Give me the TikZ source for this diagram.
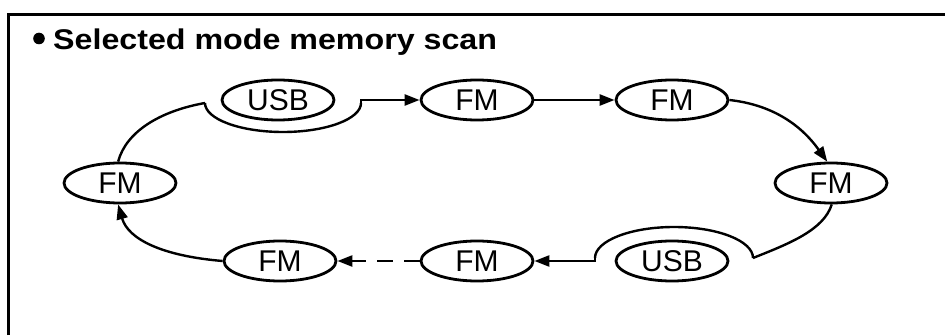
\documentclass[tikz,border=0pt]{standalone}
\usepackage{fontspec}
\setmainfont{Liberation Sans}
\usetikzlibrary{shapes.geometric,arrows.meta,calc}
\begin{document}
\begin{tikzpicture}[x=1pt,y=1pt,
  mode/.style={ellipse,draw,line width=2.8pt,minimum width=112pt,minimum height=40pt,inner sep=0pt,font=\fontsize{30}{30}\selectfont},
  conn/.style={line width=2.4pt},
  tip/.style={-{Triangle[length=15pt,width=11pt]}},
  frame/.style={line width=3pt}]
\useasboundingbox (0,0) rectangle (945,335);
% frame
\coordinate (fa) at (8,0);
\coordinate (fb) at (8,320);
\coordinate (fc) at (945,320);
\draw[frame] (fa) -- (fb) -- (fc);
% title
\fill (39,296.5) circle[radius=5.8pt];
\node[anchor=base west,inner sep=0pt,font=\fontsize{28.5}{28.5}\selectfont\bfseries] (title) at (53,285) {\scalebox{1.13}[1]{Selected mode memory scan}};
% nodes
\node[mode] (usbT) at (278,235) {USB};
\node[mode] (fm1) at (477,235) {FM};
\node[mode] (fm2) at (672,235) {FM};
\node[mode] (fmR) at (831,152) {FM};
\node[mode] (usbB) at (672,74) {USB};
\node[mode] (fmB1) at (477,74) {FM};
\node[mode] (fmB2) at (280,74) {FM};
\node[mode] (fmL) at (120,152) {FM};
% cup under top USB
\coordinate (cupL) at ($(usbT)+(-73,-3)$);
\coordinate (cupR) at ($(usbT)+(83,-3)$);
\draw[conn] (cupL) arc[start angle=180,end angle=360,x radius=78,y radius=29];
\draw[conn,tip] (cupR) -- ($(cupR)+(0,3)$) -- (fm1.west);
\draw[conn] (cupL) .. controls +(-45,-8) and +(8,30) .. (fmL.95);
% top row
\draw[conn,tip] (fm1.east) -- (fm2.west);
\draw[conn,tip] (fm2.east) .. controls +(45,-5) and +(-25,35) .. (fmR.100);
% arch over bottom USB
\coordinate (archR) at ($(usbB)+(81,3)$);
\coordinate (archL) at ($(usbB)+(-77,3)$);
\draw[conn] (fmR.272) .. controls +(-8,-26) and +(35,14) .. (archR);
\draw[conn] (archR) arc[start angle=0,end angle=180,x radius=79,y radius=31];
\draw[conn,tip] (archL) -- ($(archL)+(0,-3)$) -- (fmB1.east);
% bottom row
\draw[conn,tip,dash pattern=on 16pt off 11pt] (fmB1.west) -- (fmB2.east);
\draw[conn,tip] (fmB2.west) .. controls +(-60,5) and +(10,-35) .. (fmL.265);
\end{tikzpicture}
\end{document}
